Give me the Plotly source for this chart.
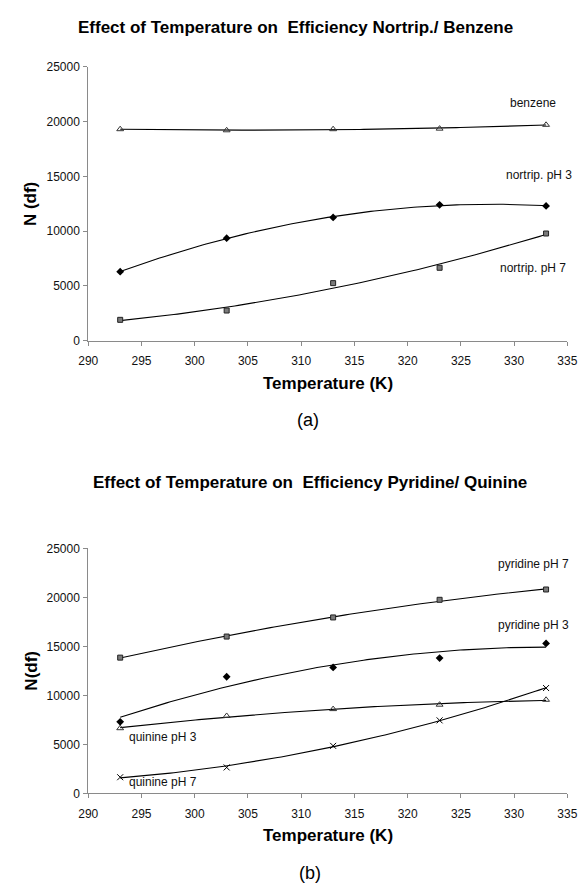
import numpy as np
import plotly.graph_objects as go

# ---------------- data ----------------
temps = [293, 303, 313, 323, 333]
x_ticks = [290, 295, 300, 305, 310, 315, 320, 325, 330, 335]
y_ticks = [0, 5000, 10000, 15000, 20000, 25000]

benzene = [19300, 19200, 19300, 19350, 19700]
nortrip_ph3 = [6300, 9350, 11250, 12400, 12300]
nortrip_ph7 = [1900, 2750, 5250, 6650, 9780]

pyridine_ph7 = [13850, 16000, 17950, 19750, 20800]
pyridine_ph3 = [7300, 11900, 12850, 13800, 15300]
quinine_ph3 = [6650, 7900, 8600, 9050, 9550]
quinine_ph7 = [1650, 2650, 4850, 7450, 10750]

# series labels: (text, x, y)
labels_a = [("benzene", 331.8, 21680), ("nortrip. pH 3", 332.3, 15090), ("nortrip. pH 7", 331.8, 6590)]
labels_b = [("pyridine pH 7", 331.8, 23390), ("pyridine pH 3", 331.8, 17170),
            ("quinine pH 3", 297.0, 5720), ("quinine pH 7", 297.0, 1200)]

FONT = "Liberation Sans, Arial, Helvetica, sans-serif"
AXIS_GREY = "#8a8a8a"

fig = go.Figure()

# marker styles
sty = {
    "tri": dict(symbol="triangle-up-open", size=6, color="#333333", line=dict(width=1, color="#333333")),
    "dia": dict(symbol="diamond", size=6, color="#000000", line=dict(width=0)),
    "sq": dict(symbol="square", size=5, color="#7a7a7a", line=dict(width=1, color="#222222")),
    "x": dict(symbol="x-thin-open", size=6, color="#000000", line=dict(width=1, color="#000000")),
}


def add_series(vals, style, xa, ya):
    # Excel-style 2nd order polynomial trendline computed from the data
    coef = np.polyfit(temps, vals, 2)
    xs = np.linspace(temps[0], temps[-1], 120)
    fig.add_trace(go.Scatter(x=xs, y=np.polyval(coef, xs), mode="lines",
                             line=dict(color="#000000", width=1.1),
                             xaxis=xa, yaxis=ya, showlegend=False, hoverinfo="skip"))
    fig.add_trace(go.Scatter(x=temps, y=vals, mode="markers", marker=sty[style],
                             xaxis=xa, yaxis=ya, showlegend=False, cliponaxis=False))


add_series(benzene, "tri", "x", "y")
add_series(nortrip_ph3, "dia", "x", "y")
add_series(nortrip_ph7, "sq", "x", "y")

add_series(pyridine_ph7, "sq", "x2", "y2")
add_series(pyridine_ph3, "dia", "x2", "y2")
add_series(quinine_ph3, "tri", "x2", "y2")
add_series(quinine_ph7, "x", "x2", "y2")

W, H = 588, 888
xdom = [81 / W, 577 / W]
ydom_a = [1 - 339 / H, 1 - 60.7 / H]
ydom_b = [1 - 799 / H, 1 - 550 / H]

xaxis_common = dict(range=[290, 335], tickmode="array", tickvals=x_ticks, ticktext=[str(v) for v in x_ticks],
                    ticks="outside", ticklen=4, tickcolor=AXIS_GREY, showline=True, linecolor=AXIS_GREY,
                    linewidth=1, showgrid=False, zeroline=False, tickfont=dict(family=FONT, size=12, color="#111"),
                    ticklabelstandoff=5, fixedrange=True)
yaxis_common = dict(range=[0, 25000], tickmode="array", tickvals=y_ticks, ticktext=[str(v) for v in y_ticks],
                    ticks="outside", ticklen=4, tickcolor=AXIS_GREY, showline=True, linecolor=AXIS_GREY,
                    linewidth=1, showgrid=False, zeroline=False, tickfont=dict(family=FONT, size=12, color="#111"),
                    ticklabelstandoff=1, fixedrange=True)

fig.update_layout(
    width=W, height=H, autosize=False,
    margin=dict(l=0, r=0, t=0, b=0, pad=0),
    paper_bgcolor="white", plot_bgcolor="white",
    font=dict(family=FONT, color="#000"),
    xaxis=dict(domain=xdom, anchor="y", **xaxis_common),
    yaxis=dict(domain=ydom_a, anchor="x", **yaxis_common),
    xaxis2=dict(domain=xdom, anchor="y2", **xaxis_common),
    yaxis2=dict(domain=ydom_b, anchor="x2", **yaxis_common),
)

ann = []
for text, xv, yv in labels_a:
    ann.append(dict(text=text, x=xv, y=yv, xref="x", yref="y", showarrow=False,
                    xanchor="center", yanchor="middle", font=dict(size=12, family=FONT, color="#111")))
for text, xv, yv in labels_b:
    ann.append(dict(text=text, x=xv, y=yv, xref="x2", yref="y2", showarrow=False,
                    xanchor="center", yanchor="middle", font=dict(size=12, family=FONT, color="#111")))


def px(xp, yp):
    return xp / W, 1 - yp / H


def add_text(text, xp, yp, size, bold=False, angle=0):
    xx, yy = px(xp, yp)
    ann.append(dict(text=("<b>%s</b>" % text) if bold else text, x=xx, y=yy, xref="paper", yref="paper",
                    showarrow=False, xanchor="center", yanchor="middle", textangle=angle,
                    font=dict(size=size, family=FONT, color="#000")))


add_text("Effect of Temperature on  Efficiency Nortrip./ Benzene", 296, 21, 17, bold=True)
add_text("Temperature (K)", 329, 383, 17, bold=True)
add_text("N (df)", 22, 200, 17, bold=True, angle=-90)
add_text("(a)", 308, 420, 18)

add_text("Effect of Temperature on  Efficiency Pyridine/ Quinine", 311, 483, 17, bold=True)
add_text("Temperature (K)", 329, 842, 17, bold=True)
add_text("N(df)", 22, 674, 17, bold=True, angle=-90)
add_text("(b)", 311, 880, 18)

fig.update_layout(annotations=ann)

fig.write_html("out.html", config={"displayModeBar": False},
               post_script="document.body.style.margin='0';")
